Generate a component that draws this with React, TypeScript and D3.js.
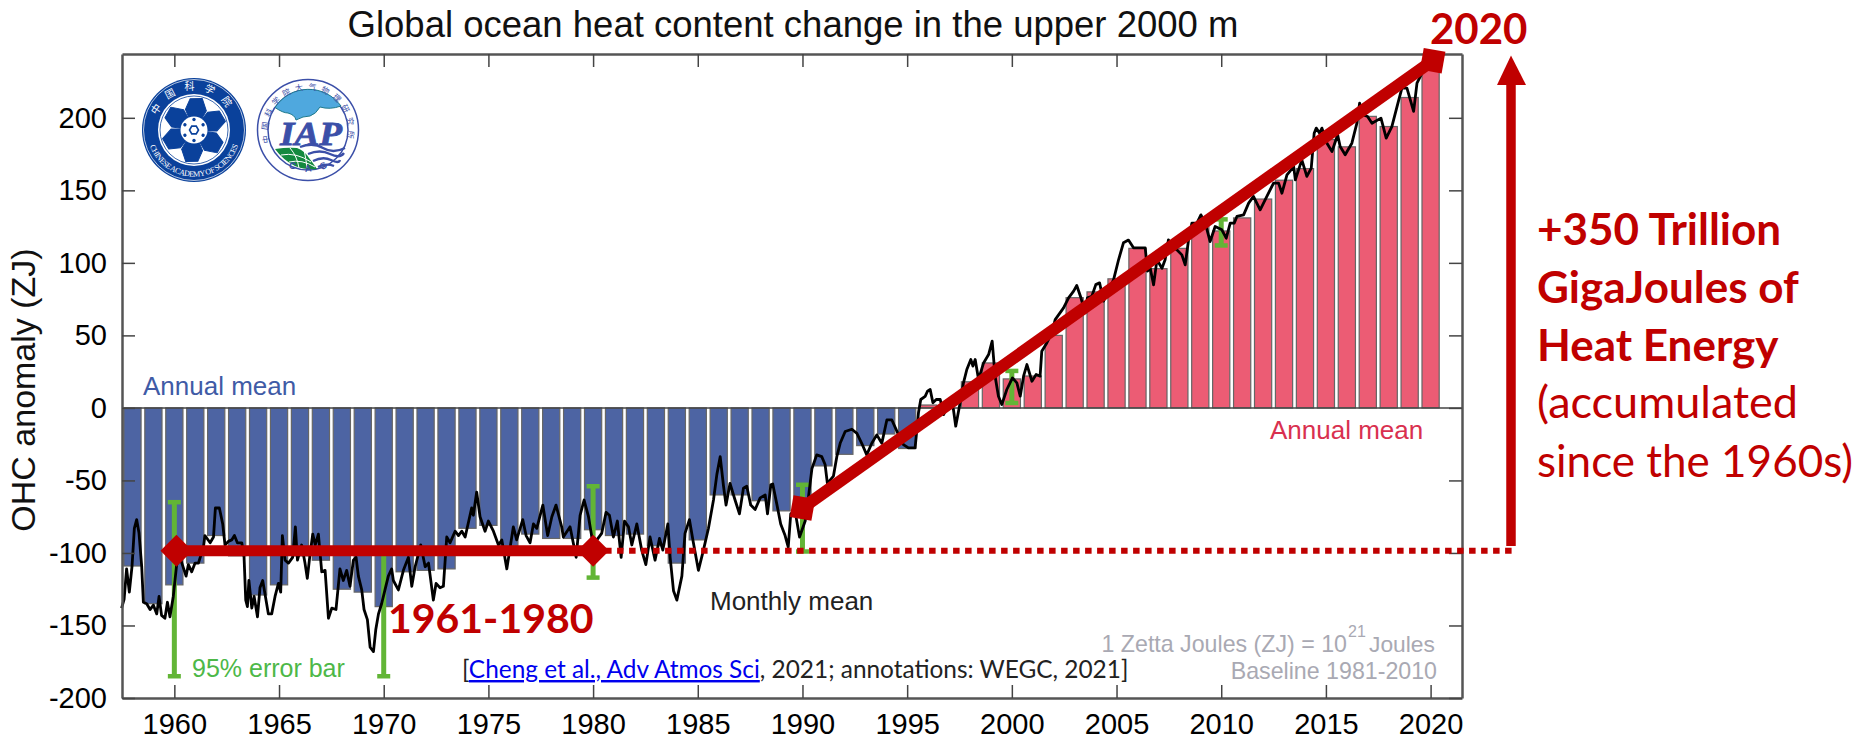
import { useEffect, useRef } from "react";
import * as d3 from "d3";

const barYears = d3.range(1958, 2021);
// annual mean OHC anomaly (ZJ)
const annualValues = [
  -109, -135, -122, -107, -88, -102, -129, -122, -102, -105, -125, -127, -137,
  -113, -112, -111, -83, -81, -95, -87, -90, -90, -84, -88, -87, -95, -107, -91,
  -60, -60, -64, -71, -63, -40, -32, -26, -18, -28, 2, 0, 18, 31, 20, 22, 50,
  76, 80, 89, 110, 96, 110, 126, 122, 131, 144, 157, 165, 185, 180, 201, 194,
  214, 238,
];

// monthly mean, [year, ZJ] pairs
const monthlyYears = [
  1957.48, 1957.6, 1957.72, 1957.85, 1957.98, 1958.09, 1958.2, 1958.31, 1958.44, 1958.52, 1958.68, 1958.84, 1959, 1959.16, 1959.27, 1959.39, 1959.55, 1959.67, 1959.79, 1959.95,
  1960.11, 1960.27, 1960.56, 1960.67, 1960.83, 1960.99, 1961.15, 1961.39, 1961.46, 1961.71, 1961.87, 1961.96, 1962.15, 1962.31, 1962.42, 1962.58, 1962.74, 1962.87, 1963.01, 1963.22,
  1963.33, 1963.41, 1963.49, 1963.56, 1963.7, 1963.81, 1963.97, 1964.09, 1964.22, 1964.35, 1964.49, 1964.65, 1964.81, 1964.97, 1965.08, 1965.16, 1965.29, 1965.45, 1965.65, 1965.78,
  1965.88, 1966.08, 1966.24, 1966.35, 1966.48, 1966.61, 1966.73, 1966.88, 1967.04, 1967.2, 1967.36, 1967.52, 1967.72, 1967.91, 1968.07, 1968.23, 1968.39, 1968.55, 1968.68, 1968.79,
  1968.95, 1969.06, 1969.22, 1969.35, 1969.51, 1969.62, 1969.75, 1969.9, 1970.06, 1970.22, 1970.38, 1970.46, 1970.7, 1970.94, 1971.18, 1971.34, 1971.5, 1971.77, 1971.98, 1972.14,
  1972.37, 1972.5, 1972.69, 1972.85, 1973.01, 1973.17, 1973.41, 1973.57, 1973.73, 1973.89, 1974.2, 1974.28, 1974.44, 1974.6, 1974.84, 1975, 1975.24, 1975.48, 1975.64, 1975.88,
  1976.19, 1976.35, 1976.64, 1976.8, 1976.99, 1977.15, 1977.31, 1977.6, 1977.83, 1978.03, 1978.23, 1978.5, 1978.58, 1978.9, 1979.19, 1979.38, 1979.57, 1979.78, 1979.94, 1980.18,
  1980.41, 1980.62, 1980.78, 1980.97, 1981.16, 1981.34, 1981.5, 1981.69, 1981.85, 1982.09, 1982.32, 1982.52, 1982.72, 1982.96, 1983.17, 1983.33, 1983.57, 1983.68, 1983.84, 1984,
  1984.24, 1984.39, 1984.6, 1984.79, 1985.03, 1985.27, 1985.51, 1985.75, 1985.91, 1986.07, 1986.23, 1986.35, 1986.54, 1986.78, 1986.99, 1987.18, 1987.34, 1987.53, 1987.74, 1987.98,
  1988.22, 1988.33, 1988.49, 1988.58, 1988.77, 1988.96, 1989.17, 1989.32, 1989.44, 1989.65, 1989.86, 1990.13, 1990.29, 1990.45, 1990.68, 1990.92, 1991.08, 1991.19, 1991.48, 1991.64,
  1991.8, 1992.04, 1992.36, 1992.6, 1992.83, 1993.07, 1993.31, 1993.55, 1993.79, 1994.03, 1994.27, 1994.59, 1994.82, 1995.06, 1995.38, 1995.54, 1995.65, 1995.86, 1995.97, 1996.1,
  1996.23, 1996.39, 1996.58, 1996.74, 1997.05, 1997.21, 1997.32, 1997.53, 1997.69, 1997.85, 1998.04, 1998.14, 1998.25, 1998.41, 1998.65, 1998.89, 1999.06, 1999.2, 1999.36, 1999.52,
  1999.76, 2000.03, 2000.24, 2000.4, 2000.56, 2000.72, 2000.96, 2001.16, 2001.35, 2001.43, 2001.67, 2001.91, 2002.07, 2002.47, 2002.71, 2002.95, 2003.1, 2003.3, 2003.5, 2003.61,
  2003.82, 2004.01, 2004.19, 2004.38, 2004.86, 2005.1, 2005.33, 2005.57, 2005.81, 2006.21, 2006.37, 2006.48, 2006.61, 2006.77, 2006.93, 2007.17, 2007.32, 2007.48, 2007.64, 2007.88,
  2008.12, 2008.28, 2008.44, 2008.6, 2008.84, 2009.03, 2009.24, 2009.47, 2009.71, 2010.03, 2010.24, 2010.43, 2010.62, 2010.75, 2011.07, 2011.31, 2011.54, 2011.86, 2012.18, 2012.5,
  2012.74, 2012.9, 2013.14, 2013.46, 2013.54, 2013.85, 2014.09, 2014.3, 2014.44, 2014.54, 2014.7, 2014.81, 2015.05, 2015.29, 2015.56, 2015.68, 2015.92, 2016.24, 2016.48, 2016.61,
  2016.77, 2016.99, 2017.2, 2017.63, 2017.88, 2018.15, 2018.44, 2018.63, 2018.87, 2019.19, 2019.35, 2019.51, 2019.75, 2019.98,
];
const monthlyValues = [
  -138, -132, -111, -127, -109, -83, -77, -86, -109, -134, -135, -139, -136, -142, -130, -143, -145, -134, -144, -130,
  -108, -103, -116, -108, -113, -107, -107, -96, -88, -93, -89, -69, -69, -80, -94.5, -92, -91, -88, -93, -93,
  -103, -132.5, -137, -119, -138, -130, -144, -124, -119, -130, -142, -142, -130, -121, -127, -88, -105, -107, -103, -82,
  -105, -94.5, -107, -117.5, -101, -87, -94.5, -87, -113, -112, -145, -138, -139, -111, -119, -112, -123, -105, -103, -116,
  -125.5, -139, -146, -165, -168, -153, -142, -135, -125.5, -116, -111, -119, -125.5, -112, -103, -123, -109.5, -94.5, -109.5, -107,
  -132.5, -121, -124, -123, -89, -93, -85, -88, -85, -89, -69, -74, -58, -75, -85, -78, -85, -94.5, -91, -111,
  -82, -91, -77, -88, -93, -80, -83, -67, -88, -75, -67, -82, -89, -82, -103, -74, -63.5, -75, -89, -91,
  -86.5, -72, -74, -89, -78, -103, -78, -82, -94.5, -80, -98, -108, -89, -105, -90, -98, -80, -103, -126, -132.5,
  -116, -86.5, -77, -93, -112, -98, -83, -63.5, -46, -33.6, -54, -67, -52, -63.5, -73, -55.4, -54, -67, -70, -62,
  -60, -73, -53, -52.4, -66, -80, -88, -96, -73, -71.5, -89, -78, -61, -42, -32.4, -33.6, -39, -52, -47, -33.6,
  -24.4, -16.3, -14.7, -17.5, -24.4, -32.4, -24.4, -18.6, -24.4, -8.3, -8.3, -18.6, -25.3, -27.6, -27.6, -3.4, 5.8, 8, 11.5, 12.7,
  3.5, 5.8, 5.8, -4.6, 5.8, -1.1, -12.6, 3.5, 17.3, 26.5, 33.4, 28.8, 33.4, 19.6, 31, 36.8, 46, 21.9, 8.1, 2.3,
  12.7, 20.7, 17.3, 8.1, 21.9, 29.9, 18.4, 23, 21.9, 39.1, 44.8, 51.7, 60.9, 69, 75.9, 80.5, 84.4, 75.9, 65.5, 75.9,
  77, 85, 86.2, 73.6, 88.5, 102.3, 113.8, 115.7, 110.4, 110.4, 110.4, 94.3, 96.3, 84.8, 102.1, 96.3, 102.1, 115.9, 111.3, 109,
  105.5, 98.6, 115.9, 127.4, 127.4, 133.1, 127.4, 114.7, 125.1, 122.8, 117, 127.4, 127.4, 132, 133.1, 141.2, 145.8, 136.6, 145.8, 155,
  155, 148, 160.7, 166.4, 157.3, 171, 159.6, 165.3, 189.4, 192.9, 189.4, 192.9, 182.5, 176.8, 188.3, 180.2, 174.5, 182.5, 196.3, 210.1,
  202.1, 200.9, 196.3, 199.8, 186, 194, 210.1, 220.5, 220.5, 204.4, 223.9, 228.5, 235.4, 238.9,
];

const errorYears = [1960, 1970, 1980, 1990, 2000, 2010];
const errorLow = [-185, -185, -117, -99, 3.4, 112];
const errorHigh = [-65, -98, -54, -53, 25.5, 130];

const xTicks = d3.range(1960, 2021, 5);
const yTicks = d3.range(-200, 201, 50);

const RED = "#C00000";
const GREEN = "#62B536";
const GREY = "#A9A9B3";
const SANS = "'Liberation Sans', Arial, sans-serif";
const CALIBRI = "Lato, 'Open Sans', sans-serif";

const x = d3.scaleLinear().domain([1957.5, 2021.5]).range([122, 1462]);
const y = d3.scaleLinear().domain([-200, 244]).range([698, 54]);

function drawChart(el: SVGSVGElement) {
  const svg = d3.select(el);
  svg.selectAll("*").remove();

  // bars
  svg
    .append("g")
    .selectAll("rect")
    .data(barYears)
    .join("rect")
    .attr("x", (d) => x(d) - 8.6)
    .attr("width", 17.2)
    .attr("y", (_, i) => y(Math.max(0, annualValues[i])))
    .attr("height", (_, i) => Math.abs(y(annualValues[i]) - y(0)))
    .attr("fill", (_, i) => (annualValues[i] < 0 ? "#4D64A3" : "#EC5C74"))
    .attr("stroke", "#666")
    .attr("stroke-width", 1.2);

  // error bars under the monthly line
  const err = svg.append("g").attr("stroke", GREEN).attr("fill", "none");
  errorYears.forEach((yr, i) => {
    const cx = x(yr);
    err.append("line").attr("x1", cx).attr("x2", cx).attr("y1", y(errorLow[i])).attr("y2", y(errorHigh[i])).attr("stroke-width", 5);
    err.append("line").attr("x1", cx - 6.5).attr("x2", cx + 6.5).attr("y1", y(errorLow[i])).attr("y2", y(errorLow[i])).attr("stroke-width", 4.5);
    err.append("line").attr("x1", cx - 6.5).attr("x2", cx + 6.5).attr("y1", y(errorHigh[i])).attr("y2", y(errorHigh[i])).attr("stroke-width", 4.5);
  });

  // zero line
  svg.append("line").attr("x1", 122).attr("x2", 1462).attr("y1", y(0)).attr("y2", y(0)).attr("stroke", "#444").attr("stroke-width", 1.5);

  // monthly mean
  const line = d3
    .line<number>()
    .x((d) => x(d))
    .y((_, i) => y(monthlyValues[i]));
  svg.append("path").attr("d", line(monthlyYears)).attr("fill", "none").attr("stroke", "#000").attr("stroke-width", 2.8).attr("stroke-linejoin", "round");

  // axes, ticks point inward on all four sides
  const tick = 13;
  const label = (d: d3.NumberValue) => String(d);
  const axes = [
    { ax: d3.axisBottom(x).tickValues(xTicks).tickFormat(label), t: "translate(0,698)", pad: 15.2 },
    { ax: d3.axisTop(x).tickValues(xTicks).tickFormat(() => ""), t: "translate(0,54)", pad: 0 },
    { ax: d3.axisLeft(y).tickValues(yTicks).tickFormat(label), t: "translate(122,0)", pad: 15 },
    { ax: d3.axisRight(y).tickValues(yTicks).tickFormat(() => ""), t: "translate(1462,0)", pad: 0 },
  ];
  axes.forEach(({ ax, t, pad }) => {
    const g = svg.append("g").attr("transform", t).call(ax.tickSizeInner(-tick).tickSizeOuter(0).tickPadding(pad));
    g.select(".domain").attr("stroke", "#555").attr("stroke-width", 2.5);
    g.selectAll(".tick line").attr("stroke", "#444").attr("stroke-width", 1.5);
    g.selectAll(".tick text").attr("fill", "#000").style("font-family", SANS).style("font-size", "29px");
  });

  // red annotations
  const yFlat = y(-98.4);
  svg.append("line").attr("x1", x(1980)).attr("x2", 1515).attr("y1", yFlat).attr("y2", yFlat).attr("stroke", RED).attr("stroke-width", 6).attr("stroke-dasharray", "6.5 5.5");
  svg.append("line").attr("x1", x(1960) + 2).attr("x2", x(1980)).attr("y1", yFlat).attr("y2", yFlat).attr("stroke", RED).attr("stroke-width", 11);
  [1960.1, 1980].forEach((yr) => {
    svg.append("path").attr("d", "M-16,0L0,-16L16,0L0,16Z").attr("transform", `translate(${x(yr)},${yFlat})`).attr("fill", RED);
  });
  const trend = [
    [1990, -69],
    [2020.1, 239.4],
  ];
  svg.append("line").attr("x1", x(trend[0][0])).attr("y1", y(trend[0][1])).attr("x2", x(trend[1][0])).attr("y2", y(trend[1][1])).attr("stroke", RED).attr("stroke-width", 12);
  trend.forEach(([a, b]) => {
    svg.append("rect").attr("x", -11).attr("y", -11).attr("width", 22).attr("height", 22).attr("fill", RED).attr("transform", `translate(${x(a)},${y(b)}) rotate(10)`);
  });
  svg.append("line").attr("x1", 1511).attr("x2", 1511).attr("y1", 546).attr("y2", 84).attr("stroke", RED).attr("stroke-width", 9.5);
  svg.append("path").attr("d", "M1497,85L1511,55.5L1526,85Z").attr("fill", RED);

  // text
  const text = (s: string, px: number, py: number, size: number, fill: string, family = SANS, weight = "normal", anchor = "start") =>
    svg.append("text").attr("x", px).attr("y", py).attr("font-size", size).attr("fill", fill).attr("font-family", family).attr("font-weight", weight).attr("text-anchor", anchor).text(s);

  text("Global ocean heat content change in the upper 2000 m", 793, 37, 36.5, "#111", SANS, "normal", "middle");
  text("OHC anomaly (ZJ)", 0, 0, 34, "#111", SANS, "normal", "middle").attr("transform", "translate(35,390) rotate(-90)");
  text("Annual mean", 143, 395, 26, "#3F5BA6");
  text("Annual mean", 1270, 439, 26, "#D9304F");
  text("Monthly mean", 710, 610, 26, "#222");
  text("95% error bar", 192, 676.5, 25, "#4DB848");
  text("1961-1980", 388, 633, 41, RED, CALIBRI, "bold");
  text("2020", 1430, 44, 42, RED, CALIBRI, "bold");

  const cite = text("[", 462, 678, 24.4, "#222", CALIBRI);
  cite.append("tspan").attr("fill", "#0000EE").attr("text-decoration", "underline").text("Cheng et al., Adv Atmos Sci");
  cite.append("tspan").text(", 2021; annotations: WEGC, 2021]");

  text("1 Zetta Joules (ZJ) = 10", 1347, 651.5, 23.2, GREY, SANS, "normal", "end");
  text("21", 1348, 637, 16, GREY);
  text("Joules", 1369, 651.5, 22.8, GREY);
  text("Baseline 1981-2010", 1437, 679, 23.2, GREY, SANS, "normal", "end");

  text("+350 Trillion", 1537, 245, 44, RED, CALIBRI, "bold");
  text("GigaJoules of", 1537, 303, 44, RED, CALIBRI, "bold");
  text("Heat Energy", 1537, 360.5, 44, RED, CALIBRI, "bold");
  text("(accumulated", 1537, 418, 45, RED, CALIBRI);
  text("since the 1960s)", 1537, 476.5, 44, RED, CALIBRI);

  drawLogos(svg);
}

// rough redraw of the two institute seals
function drawLogos(svg: d3.Selection<SVGSVGElement, unknown, null, undefined>) {
  const blue = "#0A419B";
  const cas = svg.append("g").attr("transform", "translate(194,130)");
  cas.append("circle").attr("r", 52).attr("fill", blue);
  cas.append("circle").attr("r", 50.5).attr("fill", "none").attr("stroke", "#fff").attr("stroke-width", 0.7);
  cas.append("circle").attr("r", 36).attr("fill", "#fff");
  cas.append("circle").attr("r", 34).attr("fill", "none").attr("stroke", blue).attr("stroke-width", 0.8);
  d3.range(6).forEach((i) => {
    cas.append("path").attr("d", "M-5,-10L-10,-20L-6,-31L6,-32L11,-20L6,-10Z").attr("fill", blue).attr("stroke", blue).attr("stroke-linejoin", "round").attr("transform", `rotate(${i * 60 + 4})`);
  });
  cas.append("circle").attr("r", 13.5).attr("fill", "#fff");
  cas.append("path").attr("d", d3.line().curve(d3.curveLinearClosed)(d3.range(6).map((i) => [4.5 * Math.cos((i * Math.PI) / 3), 4.5 * Math.sin((i * Math.PI) / 3)]))).attr("fill", "none").attr("stroke", blue).attr("stroke-width", 1.6);
  d3.range(6).forEach((i) => {
    cas.append("circle").attr("cx", 10.5).attr("r", 1.7).attr("fill", blue).attr("transform", `rotate(${i * 60 + 30})`);
  });
  cas.append("path").attr("id", "casArc").attr("d", "M-46,-10A47,47 0 1 0 46,-10").attr("fill", "none");
  cas.append("text").attr("font-size", 8).attr("font-family", "'Liberation Serif', serif").attr("fill", "#fff").attr("letter-spacing", -0.5)
    .append("textPath").attr("href", "#casArc").attr("startOffset", "50%").attr("text-anchor", "middle").text("CHINESE ACADEMY OF SCIENCES");
  cas.append("path").attr("id", "casTop").attr("d", "M-38,8A39,39 0 1 1 38,8").attr("fill", "none");
  cas.append("text").attr("font-size", 10).attr("font-family", "'Noto Sans CJK SC', sans-serif").attr("fill", "#fff").attr("letter-spacing", 9)
    .append("textPath").attr("href", "#casTop").attr("startOffset", "50%").attr("text-anchor", "middle").text("中国科学院");

  const ink = "#3B4FA8";
  const iap = svg.append("g").attr("transform", "translate(308,130)");
  iap.append("circle").attr("r", 50.5).attr("fill", "#fff").attr("stroke", ink).attr("stroke-width", 1.5);
  iap.append("circle").attr("r", 40).attr("fill", "#fff").attr("stroke", ink).attr("stroke-width", 1.5);
  iap.append("path").attr("d", "M-33,-22.5A40,40 0 0 1 33,-24Q22,-20 12,-23Q8,-16 2,-14Q-5,-14 -12,-10Q-13,-15 -20,-17Q-25,-17 -33,-22.5Z").attr("fill", "#4FA8DE").attr("stroke", "#1F7A8C");
  iap.append("text").attr("x", 3).attr("text-anchor", "middle").attr("y", 15).attr("font-size", 33).attr("font-weight", "bold").attr("font-style", "italic").attr("font-family", "'Liberation Serif', serif").attr("fill", ink).attr("stroke", ink).attr("stroke-width", 0.8).attr("textLength", 62).attr("lengthAdjust", "spacingAndGlyphs").text("IAP");
  iap.append("path").attr("d", "M-33,19Q-20,17 -11,18Q-3,21 1,28Q5,33 9,39Q-3,40 -13,36Q-25,30 -33,19Z").attr("fill", "#14893F");
  iap.append("path").attr("d", "M-27,25Q-12,22 3,32M-19,32Q-6,29 7,37M-18,18Q-11,26 -9,38M-4,20Q-2,28 -1,38").attr("fill", "none").attr("stroke", "#fff").attr("stroke-width", 1);
  iap.append("path").attr("d", "M-8,17Q5,12 15,18T37,18M0,24Q12,19 22,24T36,23M5,31Q15,26 23,30T32,30M10,37Q18,33 26,36").attr("fill", "none").attr("stroke", ink).attr("stroke-width", 2.3);
  iap.append("path").attr("id", "iapBottom").attr("d", "M-46,4A47,47 0 0 0 46,4").attr("fill", "none");
  iap.append("text").attr("font-size", 9.5).attr("font-weight", "bold").attr("letter-spacing", 10).attr("font-family", SANS).attr("fill", ink)
    .append("textPath").attr("href", "#iapBottom").attr("startOffset", "54%").attr("text-anchor", "middle").text("CAS");
  iap.append("path").attr("id", "iapArc").attr("d", "M-37,15A40,40 0 1 1 37,15").attr("fill", "none");
  iap.append("text").attr("font-size", 8).attr("font-family", "'Noto Sans CJK SC', sans-serif").attr("fill", ink).attr("letter-spacing", 4.6)
    .append("textPath").attr("href", "#iapArc").attr("startOffset", "50%").attr("text-anchor", "middle").text("中国科学院大气物理研究所");
}

export default function App() {
  const ref = useRef<SVGSVGElement>(null);
  useEffect(() => {
    if (ref.current) drawChart(ref.current);
  }, []);
  return <svg ref={ref} width={1858} height={740} style={{ position: "absolute", left: 0, top: 0, background: "#fff" }} />;
}
